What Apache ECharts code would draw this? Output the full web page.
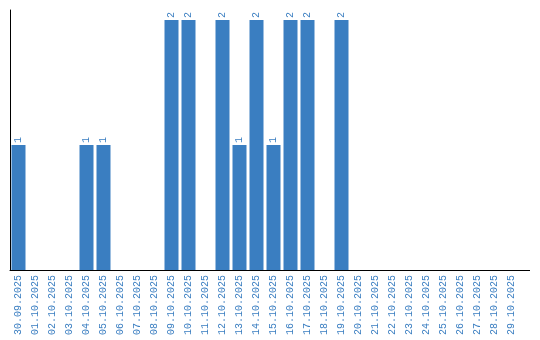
<!DOCTYPE html>
<html><head><meta charset="utf-8">
<script src="https://cdn.jsdelivr.net/npm/echarts@6/dist/echarts.min.js"></script>
<style>html,body{margin:0;padding:0;background:#fff}#c{width:540px;height:340px}</style>
</head><body><div id="c"></div>
<script>
const categories = ['30.09.2025','01.10.2025','02.10.2025','03.10.2025','04.10.2025','05.10.2025','06.10.2025','07.10.2025','08.10.2025','09.10.2025','10.10.2025','11.10.2025','12.10.2025','13.10.2025','14.10.2025','15.10.2025','16.10.2025','17.10.2025','18.10.2025','19.10.2025','20.10.2025','21.10.2025','22.10.2025','23.10.2025','24.10.2025','25.10.2025','26.10.2025','27.10.2025','28.10.2025','29.10.2025'];
const values = [1,0,0,0,1,1,0,0,0,2,2,0,2,1,2,1,2,2,0,2,0,0,0,0,0,0,0,0,0,0];
const blue = '#3a7ec1';
const chart = echarts.init(document.getElementById('c'));
chart.setOption({
  animation: false,
  grid: {left: 10, right: 20, top: 10, bottom: 70},
  graphic: [{type: 'line', shape: {x1: 520, y1: 270.5, x2: 530, y2: 270.5}, style: {stroke: '#000', lineWidth: 1}}],
  xAxis: {
    type: 'category', data: categories,
    axisLine: {lineStyle: {color: '#000', width: 1}},
    axisTick: {show: false},
    axisLabel: {rotate: 90, interval: 0, color: blue, fontFamily: 'Liberation Mono', fontSize: 10, margin: 5}
  },
  yAxis: {
    type: 'value', min: 0, max: 2.08,
    axisLine: {show: true, lineStyle: {color: '#000', width: 1}},
    axisTick: {show: false}, axisLabel: {show: false}, splitLine: {show: false}
  },
  series: [{
    type: 'bar', data: values, barWidth: 14,
    itemStyle: {color: blue},
    label: {
      show: true, position: 'top', rotate: 90, align: 'left', verticalAlign: 'middle',
      distance: 2, color: blue, fontFamily: 'Liberation Mono', fontSize: 10,
      formatter: p => p.value > 0 ? String(p.value) : ''
    }
  }]
});
</script></body></html>
